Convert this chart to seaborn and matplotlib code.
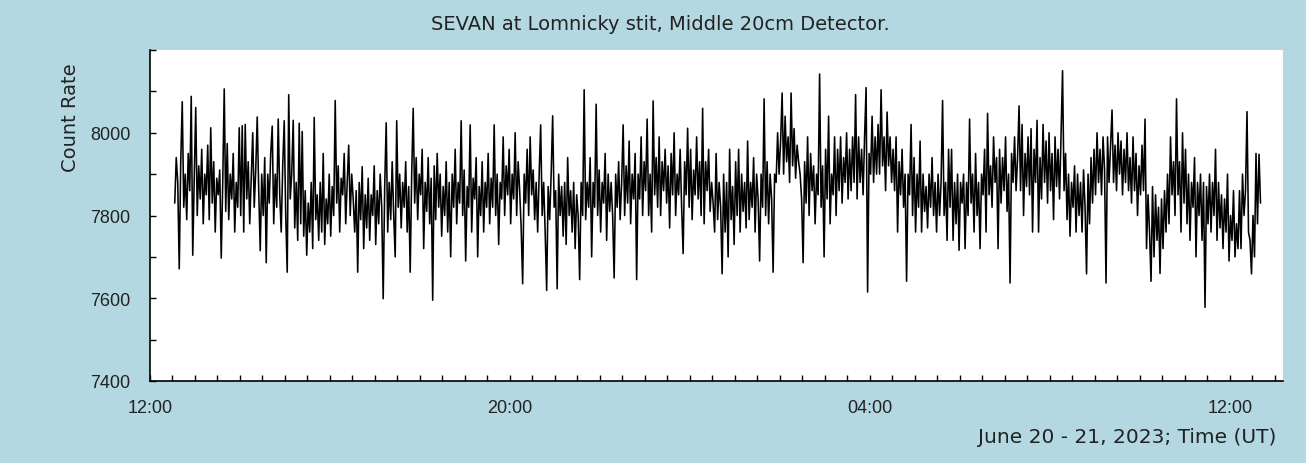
#!/usr/bin/env python3
"""SEVAN Lomnicky stit - middle 20cm detector count rate, June 20-21 2023"""

import matplotlib
matplotlib.use('Agg')
import matplotlib.pyplot as plt
import matplotlib.dates as mdates
from matplotlib.ticker import MultipleLocator
import seaborn as sns
import pandas as pd

# 2-minute count rate samples (one row = one hour)
afternoon = [
    7830, 7940, 7880, 7671, 7930, 8075, 7820, 7900, 7790, 7950, 7860, 8088, 7704, 7890, 8061, 7800, 7920, 7840, 7960, 7780, 7900, 7850, 7970, 7790, 8012, 7830, 7930, 7760, 7890, 7850,
    7910, 7697, 7880, 8106, 7810, 7974, 7790, 7900, 7840, 7950, 7760, 7880, 7820, 8012, 7800, 8017, 7760, 8020, 7840, 7930, 7780, 7890, 8000, 7820, 7910, 8038, 7860, 7715, 7900, 7800,
    7940, 7686, 7900, 7830, 7950, 8016, 7780, 7900, 7820, 8033, 7850, 7760, 7920, 8029, 7800, 7663, 8092, 7840, 7900, 8030, 7770, 7880, 7740, 8023, 7780, 8003, 7750, 7860, 7704, 7830,
    7760, 7880, 7720, 8037, 7790, 7850, 7740, 7880, 7760, 7950, 7730, 7840, 7780, 7900, 7750, 7870, 7800, 8078, 7830, 7920, 7760, 7890, 7850, 7950, 7780, 7880, 7970, 7800, 7900, 7840,
    7760, 7860, 7663, 7880, 7790, 7918, 7720, 7850, 7770, 7890, 7740, 7850, 7800, 7920, 7730, 7860, 7780, 7900, 7820, 7599, 7870, 8024, 7760, 7880, 7790, 7930, 7800, 7700, 8029, 7820,
    7900, 7770, 7880, 7820, 7930, 7760, 7870, 7663, 7900, 8059, 7830, 7940, 7790, 7900, 7850, 7960, 7720, 7880, 7810, 7940, 7780, 7890, 7595, 7920, 7790, 7950, 7820, 7900, 7750, 7870,
]
evening = [
    7800, 7930, 7760, 7880, 7700, 7900, 7820, 7960, 7780, 7880, 7830, 8029, 7800, 7910, 7690, 7870, 7820, 8019, 7760, 7890, 7840, 7940, 7700, 7870, 7800, 7930, 7760, 7880, 7820, 7950,
    7780, 7890, 7820, 8019, 7800, 7900, 7730, 7880, 7840, 7990, 7800, 7920, 7850, 7960, 7780, 7900, 7840, 8000, 7800, 7930, 7860, 7770, 7635, 7900, 7830, 7960, 7800, 7990, 7850, 7910,
    7790, 7880, 7760, 7900, 8019, 7800, 7880, 7760, 7619, 7870, 7790, 7900, 8041, 7820, 7860, 7623, 7900, 7800, 7870, 7750, 7880, 7730, 7940, 7800, 7860, 7760, 7880, 7720, 7850, 7800,
    7645, 7880, 7800, 8104, 7790, 7880, 7820, 7940, 7700, 7880, 7820, 8069, 7800, 7910, 7760, 7880, 7830, 7950, 7740, 7900, 7810, 7880, 7800, 7649, 7900, 7820, 7930, 7790, 7880, 8019,
    7800, 7920, 7830, 7980, 7780, 7900, 7840, 7950, 7645, 7900, 7840, 7990, 7800, 7930, 7860, 8033, 7800, 7900, 7760, 8077, 7850, 7940, 7820, 7990, 7800, 7930, 7860, 7960, 7830, 7920,
    7770, 7950, 7850, 8000, 7800, 7900, 7850, 7960, 7820, 7708, 7930, 7850, 8011, 7820, 7960, 7790, 7910, 7850, 7990, 7840, 7930, 7800, 8059, 7780, 7930, 7860, 7960, 7810, 7880, 7830,
]
night = [
    7760, 7950, 7790, 7880, 7820, 7659, 7900, 7760, 7880, 7700, 7960, 7790, 7870, 7730, 7930, 7800, 7960, 7760, 7900, 7810, 7880, 7770, 7980, 7790, 7880, 7820, 7940, 7760, 7900, 7840,
    7690, 7900, 7820, 8082, 7800, 7930, 7780, 7900, 7840, 7663, 7900, 7880, 8000, 7900, 7980, 8096, 7900, 8040, 7930, 7990, 7880, 8096, 7920, 8010, 7890, 7970, 7930, 7900, 7840, 7686,
    7930, 7830, 7990, 7800, 7950, 7860, 7920, 7780, 7900, 7850, 8142, 7820, 7920, 7700, 7960, 7840, 8040, 7780, 7900, 7850, 7990, 7800, 7960, 7860, 7990, 7830, 7940, 7880, 8000, 7840,
    7960, 7860, 7990, 7880, 8092, 7840, 7990, 7880, 7960, 7850, 7990, 8109, 7615, 7950, 7900, 8040, 7880, 7990, 7900, 8020, 7900, 8104, 7920, 7990, 7860, 8050, 7920, 7990, 7880, 7960,
    7860, 7990, 7760, 7930, 7850, 7960, 7820, 7900, 7641, 7900, 7850, 8020, 7800, 7940, 7760, 7900, 7820, 7980, 7760, 7900, 7810, 7870, 7770, 7900, 7820, 7940, 7800, 7880, 7760, 7900,
    7800, 7880, 8078, 7800, 7880, 7740, 7960, 7820, 7960, 7740, 7880, 7780, 7900, 7716, 7880, 7830, 7900, 7720, 7880, 7800, 8033, 7830, 7900, 7760, 7950, 7800, 7880, 7720, 7900, 7850,
]
morning = [
    7960, 7760, 8047, 7850, 7920, 7820, 7990, 7880, 7940, 7720, 7960, 7830, 7940, 7860, 7990, 7810, 7900, 7637, 7950, 7880, 7990, 7860, 7940, 8065, 7860, 8020, 7800, 7950, 7870, 7990,
    7850, 8010, 7760, 7960, 7880, 8030, 7760, 7940, 7840, 8020, 7880, 7980, 7830, 8000, 7860, 7950, 7790, 7990, 7870, 7960, 7840, 8000, 8150, 7860, 7950, 7790, 7900, 7750, 7880, 7820,
    7920, 7760, 7900, 7800, 7880, 7760, 7910, 7820, 7659, 7900, 7780, 7940, 7830, 7960, 7850, 8000, 7880, 7960, 7850, 7990, 7910, 7637, 7990, 7880, 7970, 8055, 7880, 7970, 7860, 8000,
    7900, 7980, 7850, 7960, 7880, 8000, 7860, 7940, 7830, 7990, 7860, 7950, 7800, 7920, 7850, 7970, 7860, 8033, 7720, 7850, 7760, 7641, 7870, 7700, 7850, 7740, 7820, 7660, 7840, 7720,
    7860, 7760, 7900, 7780, 7990, 7850, 7930, 7800, 8082, 7850, 7930, 7760, 8000, 7830, 7960, 7780, 7900, 7740, 7880, 7820, 7940, 7700, 7880, 7800, 7900, 7740, 7880, 7578, 7870, 7780,
    7900, 7760, 7880, 7800, 7960, 7740, 7880, 7770, 7850, 7720, 7840, 7760, 7900, 7690, 7800, 7740, 7860, 7700, 7780, 7720, 7860, 7720, 7900, 7800, 7860, 8051, 7760, 7740, 7659, 7800,
    7700, 7950, 7780, 7948, 7830,
]

count_rate = afternoon + evening + night + morning
times = pd.date_range('2023-06-20 12:33', periods=len(count_rate), freq='2min')
df = pd.DataFrame({'Time': times, 'Count_Rate': count_rate})

title = 'SEVAN at Lomnicky stit, Middle 20cm Detector.'
x_label = 'June 20 - 21, 2023; Time (UT)'
y_label = 'Count Rate'
y_ticks = [7400, 7600, 7800, 8000]

bg = '#b4d8e2'
txt = '#222222'

sns.set_style('ticks')
plt.rcParams['font.family'] = ['Liberation Sans', 'DejaVu Sans']

fig = plt.figure(figsize=(13.06, 4.64), dpi=100, facecolor=bg)
ax = fig.add_axes([150 / 1306, 1 - 382 / 464, 1133 / 1306, 331 / 464])
ax.set_facecolor('white')

sns.lineplot(data=df, x='Time', y='Count_Rate', ax=ax, color='black',
             linewidth=1.15, estimator=None, errorbar=None)

# eixos
ax.set_xlim(pd.Timestamp('2023-06-20 12:00'), pd.Timestamp('2023-06-21 13:11'))
ax.set_ylim(7400, 8200)
ax.set_yticks(y_ticks)
ax.yaxis.set_minor_locator(MultipleLocator(100))
ax.xaxis.set_major_locator(mdates.HourLocator(byhour=[4, 12, 20]))
ax.xaxis.set_minor_locator(mdates.MinuteLocator(byminute=[0, 30]))
ax.xaxis.set_major_formatter(mdates.DateFormatter('%H:%M'))

for side in ['top', 'right']:
    ax.spines[side].set_visible(False)
for side in ['left', 'bottom']:
    ax.spines[side].set_linewidth(1.2)
    ax.spines[side].set_color('black')

ax.tick_params(axis='both', which='both', direction='in', length=4, width=1,
               labelsize=13, colors='black', labelcolor=txt)
ax.tick_params(axis='y', pad=14)
ax.tick_params(axis='x', pad=13)

ax.set_xlabel('')
ax.set_ylabel(y_label, fontsize=14, color=txt, family='DejaVu Sans')
ax.yaxis.set_label_coords(-0.062, 0.80)

fig.text(660 / 1306, 1 - 25 / 464, title, ha='center', va='center',
         fontsize=14, color=txt, family='DejaVu Sans')
fig.text(1276 / 1306, 1 - 438 / 464, x_label, ha='right', va='center',
         fontsize=14.5, color=txt, family='DejaVu Sans')

fig.savefig('out.png', dpi=100, facecolor=bg)
plt.close(fig)
